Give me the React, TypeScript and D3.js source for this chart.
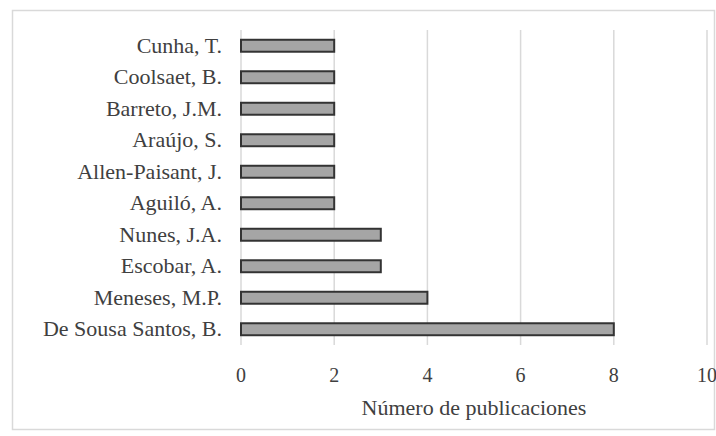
import React, { FC, useMemo } from 'react'
import * as d3 from 'd3'

// autores de abajo hacia arriba en el eje
const authors = [
	'De Sousa Santos, B.',
	'Meneses, M.P.',
	'Escobar, A.',
	'Nunes, J.A.',
	'Aguiló, A.',
	'Allen-Paisant, J.',
	'Araújo, S.',
	'Barreto, J.M.',
	'Coolsaet, B.',
	'Cunha, T.'
]
const publications = [8, 4, 3, 3, 2, 2, 2, 2, 2, 2]
const xTicks = [0, 2, 4, 6, 8, 10]
const xTitle = 'Número de publicaciones'

const W = 716
const H = 436
const mLeft = 241
const mRight = 707
const mTop = 30
const mBottom = 345
const serif = '"Liberation Serif", "Times New Roman"'

const App: FC = () => {
	const x = useMemo(() => {
		return d3.scaleLinear().domain([0, 10]).range([mLeft, mRight])
	}, [])

	const y = useMemo(() => {
		return d3
			.scaleBand()
			.domain([...authors].reverse())
			.range([mTop, mBottom])
			.paddingInner(0.62)
			.paddingOuter(0.31)
	}, [])

	return (
		<svg width={W} height={H} style={{ position: 'absolute', left: 0, top: 0, fontFamily: serif }}>
			<rect x={12.5} y={10.5} width={702} height={419} fill="#fff" stroke="#d9d9d9" strokeWidth={1.5} />
			{/* rejilla */}
			<g>
				{xTicks.map(t => (
					<line key={t} x1={x(t)} x2={x(t)} y1={mTop} y2={mBottom} stroke="#d9d9d9" strokeWidth={1.5} />
				))}
			</g>
			{/* barras */}
			<g>
				{authors.map((a, i) => (
					<rect
						key={a}
						x={x(0)}
						y={y(a)}
						width={x(publications[i]) - x(0)}
						height={y.bandwidth()}
						fill="#a5a5a5"
						stroke="#333"
						strokeWidth={2}
					/>
				))}
			</g>
			<g>
				{authors.map(a => (
					<text
						key={a}
						x={222}
						y={(y(a) || 0) + y.bandwidth() / 2 + 7}
						textAnchor="end"
						fontFamily={serif}
						fontSize={22}
						fill="#404040"
					>
						{a}
					</text>
				))}
			</g>
			{/* eje x */}
			<g>
				{xTicks.map(t => (
					<text
						key={t}
						x={x(t)}
						y={382}
						textAnchor="middle"
						fontFamily={serif}
						fontSize={20}
						fill="#404040"
					>
						{t}
					</text>
				))}
			</g>
			<text
				x={(mLeft + mRight) / 2}
				y={415}
				textAnchor="middle"
				fontFamily={serif}
				fontSize={22}
				fill="#404040"
			>
				{xTitle}
			</text>
		</svg>
	)
}

export default App
